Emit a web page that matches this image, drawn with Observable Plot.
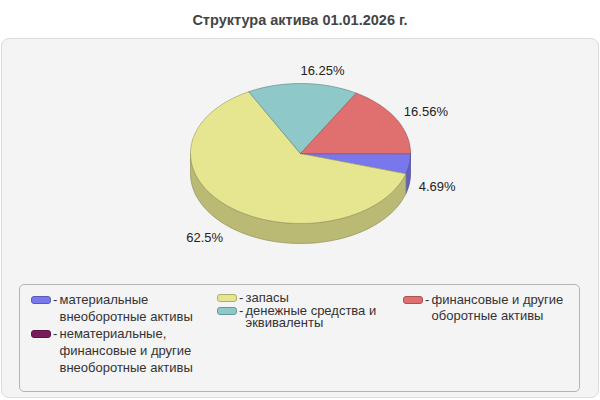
<!DOCTYPE html>
<html>
<head>
<meta charset="utf-8">
<script src="https://cdn.jsdelivr.net/npm/d3@7"></script>
<script src="https://cdn.jsdelivr.net/npm/@observablehq/plot@0.6"></script>
<style>
  html, body { margin: 0; padding: 0; background: #fff; }
  body { width: 600px; height: 400px; position: relative; overflow: hidden; font-family: "Liberation Sans", Arial, sans-serif; }
  #title { position: absolute; left: 0; top: 12px; width: 600px; text-align: center; font-weight: bold; font-size: 14.5px; line-height: 17px; color: #444; }
  #panel { position: absolute; left: 1px; top: 38px; width: 596px; height: 358px; border: 1px solid #dcdcdc; border-radius: 8px; background: #f4f4f4; }
  #pie { position: absolute; left: 0; top: 0; }
  #legend { position: absolute; left: 19px; top: 284px; width: 559px; height: 106px; border: 1px solid #b4b4b4; border-radius: 5px; }
  .item { position: absolute; font-size: 13px; color: #333; }
  .sw { position: absolute; width: 18px; height: 6px; border-radius: 3px; }
  .dash { position: absolute; }
  .txt { position: absolute; white-space: nowrap; }
</style>
</head>
<body>
<div id="title"></div>
<div id="panel"></div>
<div id="pie"></div>
<div id="legend"></div>
<script>
const title = "Структура актива 01.01.2026 г.";
const categories = [
  "материальные внеоборотные активы",
  "нематериальные, финансовые и другие внеоборотные активы",
  "запасы",
  "денежные средства и эквиваленты",
  "финансовые и другие оборотные активы"
];
const legendLines = [
  ["материальные", "внеоборотные активы"],
  ["нематериальные,", "финансовые и другие", "внеоборотные активы"],
  ["запасы"],
  ["денежные средства и", "эквиваленты"],
  ["финансовые и другие", "оборотные активы"]
];
const values = [4.69, 0, 62.5, 16.25, 16.56];
const valueLabels = ["4.69%", "", "62.5%", "16.25%", "16.56%"];
const colors = ["#7878ec", "#7a1a5a", "#e6e690", "#8ec8c8", "#e07070"];

// layout (pixels)
const CX = 300, CY = 153, RX = 110, RY = 70, DEPTH = 20, LABEL_GAP = 12;

document.getElementById("title").textContent = title;

const total = d3.sum(values);
let cum = 0;
const slices = values.map((v, i) => {
  const a0 = cum / total * 2 * Math.PI;
  cum += v;
  const a1 = cum / total * 2 * Math.PI;
  return {i, v, a0, a1, color: colors[i], label: valueLabels[i], name: categories[i]};
}).filter(s => s.v > 0);

function arc(a0, a1, dy) {
  const n = Math.max(2, Math.ceil((a1 - a0) / (Math.PI / 90)));
  const pts = [];
  for (let k = 0; k <= n; k++) {
    const a = a0 + (a1 - a0) * k / n;
    pts.push({x: CX + RX * Math.cos(a), y: CY + RY * Math.sin(a) + dy});
  }
  return pts;
}

const sidePts = [];
const topPts = [];
for (const s of slices) {
  const b0 = Math.max(s.a0, 0), b1 = Math.min(s.a1, Math.PI);
  const sideFill = d3.color(s.color).darker(0.6).formatHex();
  const sideStroke = d3.color(s.color).darker(1.3).formatHex();
  if (b1 > b0) {
    const top = arc(b0, b1, 0);
    const bot = arc(b0, b1, DEPTH).reverse();
    for (const p of [...top, ...bot]) sidePts.push({...p, k: "s" + s.i, fill: sideFill, stroke: sideStroke});
  }
  const topStroke = d3.color(s.color).darker(1.2).formatHex();
  topPts.push({x: CX, y: CY, k: "t" + s.i, fill: s.color, stroke: topStroke});
  for (const p of arc(s.a0, s.a1, 0)) topPts.push({...p, k: "t" + s.i, fill: s.color, stroke: topStroke});
}

const labelData = slices.map(s => {
  const m = (s.a0 + s.a1) / 2;
  const c = Math.cos(m), sn = Math.sin(m);
  return {
    x: CX + (RX + LABEL_GAP) * c,
    y: CY + (RY + LABEL_GAP) * sn + (sn > 0 ? DEPTH + 1 : -1),
    text: s.label,
    right: c >= 0
  };
});

const chart = Plot.plot({
  width: 600,
  height: 280,
  margin: 0,
  style: {background: "transparent", overflow: "visible"},
  x: {domain: [0, 600], range: [0, 600], axis: null},
  y: {domain: [0, 280], range: [0, 280], axis: null},
  color: {type: "identity"},
  marks: [
    Plot.line(sidePts, {x: "x", y: "y", z: "k", fill: "fill", stroke: "stroke", strokeWidth: 0.7, curve: "linear-closed"}),
    Plot.line(topPts, {x: "x", y: "y", z: "k", fill: "fill", stroke: "stroke", strokeWidth: 0.6, curve: "linear-closed"}),
    Plot.text(labelData.filter(d => d.right), {x: "x", y: "y", text: "text", textAnchor: "start", dx: -2.5, fontSize: 13, fill: "#222", fontFamily: "Liberation Sans, Arial, sans-serif"}),
    Plot.text(labelData.filter(d => !d.right), {x: "x", y: "y", text: "text", textAnchor: "end", fontSize: 13, fill: "#222", fontFamily: "Liberation Sans, Arial, sans-serif"})
  ]
});
document.getElementById("pie").appendChild(chart);

// legend (columns of items)
const legendCols = [
  {items: [0, 1], x: 31, top: 291, lh: 17, gap: 0},
  {items: [2, 3], x: 217, top: 291.5, lh: 12, gap: 1},
  {items: [4], x: 403, top: 292, lh: 16, gap: 0}
];
for (const col of legendCols) {
  let y = col.top;
  for (const i of col.items) {
    const it = document.createElement("div");
    it.className = "item";
    it.style.left = col.x + "px";
    it.style.top = y + "px";
    it.style.lineHeight = col.lh + "px";
    const sw = document.createElement("div");
    sw.className = "sw";
    sw.style.left = "0px";
    sw.style.top = (col.lh / 2 - 4) + "px";
    sw.style.background = colors[i];
    sw.style.border = "1px solid " + d3.color(colors[i]).darker(0.8).formatHex();
    const dash = document.createElement("div");
    dash.className = "dash";
    dash.style.left = "22px";
    dash.style.top = "0px";
    dash.textContent = "-";
    const txt = document.createElement("div");
    txt.className = "txt";
    txt.style.left = "28.5px";
    txt.style.top = "0px";
    txt.innerHTML = legendLines[i].map(l => l.replace(/&/g, "&amp;").replace(/</g, "&lt;")).join("<br>");
    it.append(sw, dash, txt);
    document.body.appendChild(it);
    y += legendLines[i].length * col.lh + col.gap;
  }
}
</script>
</body>
</html>
